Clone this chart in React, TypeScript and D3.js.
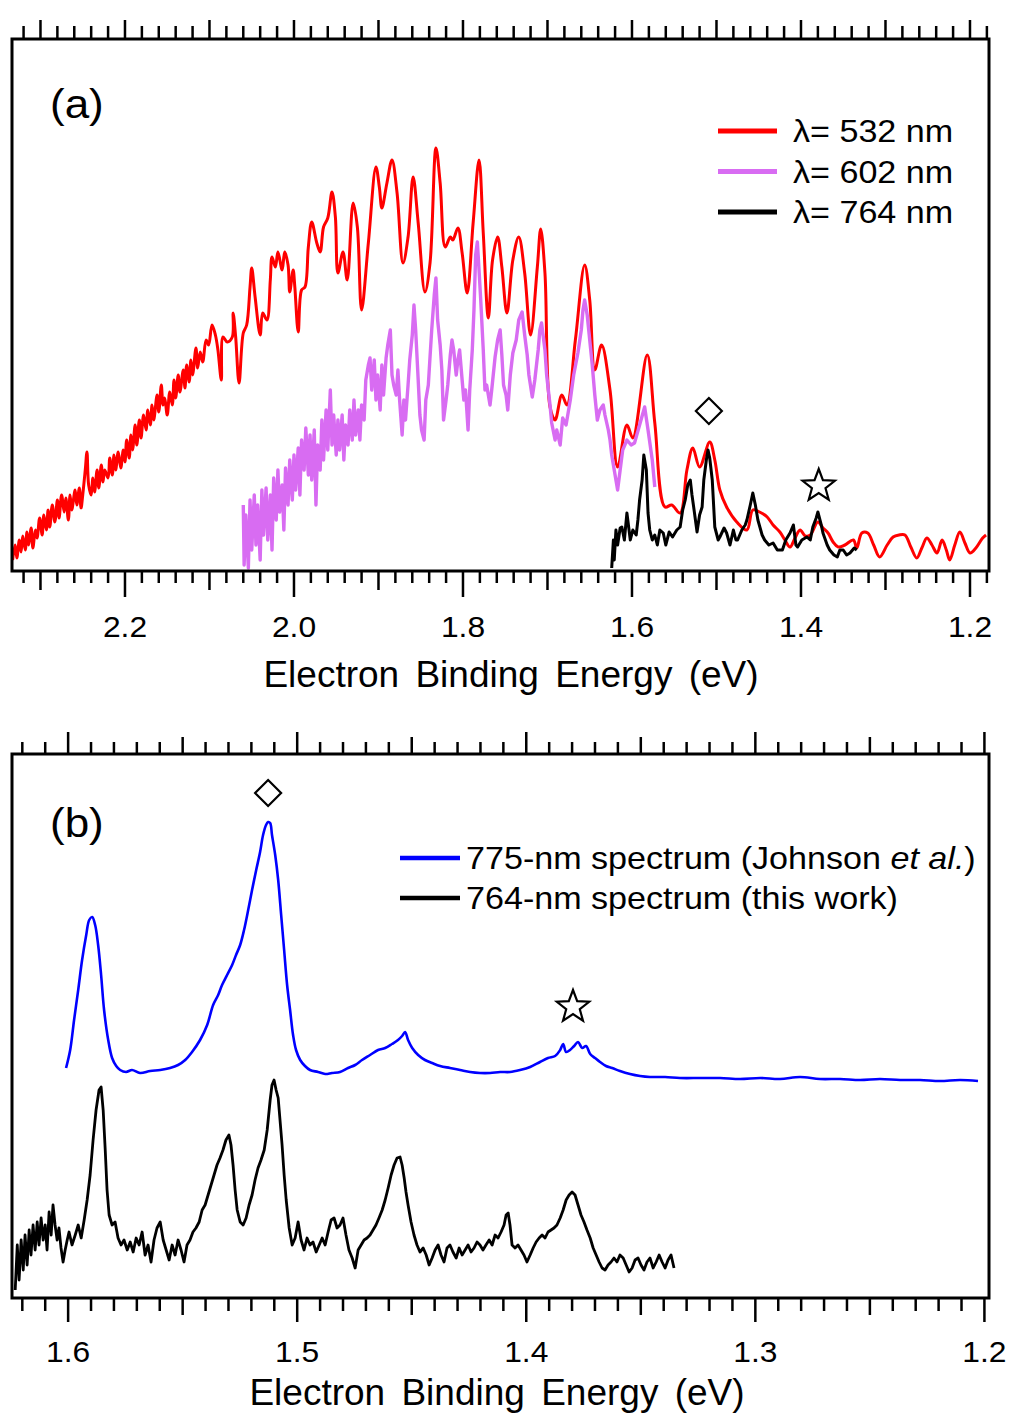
import React, { useEffect, useRef } from 'react';
import * as d3 from 'd3';

type Pt = [number, number];

// ---- panel (a): binding energy (eV), intensity (arb. counts) ----
const spec532: Pt[] = [
  [2.333,11],[2.330,26],[2.328,13],[2.325,31],[2.323,19],[2.321,35],[2.318,21],[2.316,39],[2.314,26],[2.311,43],
  [2.309,23],[2.306,41],[2.304,33],[2.301,53],[2.298,36],[2.296,56],[2.293,41],[2.291,61],[2.289,44],[2.286,66],
  [2.283,49],[2.280,71],[2.278,53],[2.275,76],[2.272,59],[2.270,73],[2.267,51],[2.265,76],[2.263,61],[2.259,81],
  [2.257,66],[2.254,83],[2.252,63],[2.250,76],[2.247,101],[2.245,119],[2.243,86],[2.240,76],[2.238,93],[2.236,79],
  [2.233,101],[2.231,83],[2.228,106],[2.226,89],[2.224,101],[2.220,93],[2.218,113],[2.215,96],[2.213,116],[2.211,101],
  [2.208,119],[2.205,103],[2.202,121],[2.200,109],[2.198,131],[2.195,113],[2.193,136],[2.191,121],[2.188,146],[2.186,126],
  [2.183,151],[2.181,133],[2.178,156],[2.175,141],[2.173,161],[2.170,146],[2.168,166],[2.166,151],[2.162,176],[2.160,159],
  [2.157,186],[2.155,166],[2.153,173],[2.150,156],[2.147,179],[2.144,166],[2.142,191],[2.140,173],[2.137,196],[2.135,179],
  [2.131,201],[2.129,183],[2.127,206],[2.124,189],[2.122,211],[2.120,196],[2.116,223],[2.114,203],[2.111,219],[2.108,209],
  [2.104,231],[2.101,226],[2.097,246],[2.093,236],[2.090,221],
  [2.086,191],[2.084,234],[2.079,229],[2.073,234],[2.072,258],[2.069,234],[2.065,188],[2.060,238],[2.056,246],[2.052,284],
  [2.050,303],[2.046,274],[2.040,236],[2.037,258],[2.032,251],[2.028,291],[2.026,314],[2.022,304],[2.019,319],[2.014,301],
  [2.011,319],[2.007,306],[2.005,279],[2.001,301],[1.999,284],[1.995,239],[1.991,281],[1.987,284],[1.983,324],[1.979,349],
  [1.973,328],[1.969,319],[1.965,344],[1.960,353],[1.955,379],[1.951,354],[1.948,298],[1.942,319],[1.937,291],[1.930,368],
  [1.925,344],[1.920,261],[1.912,328],[1.903,404],[1.899,384],[1.896,363],[1.890,388],[1.884,411],[1.878,378],[1.871,308],
  [1.865,334],[1.859,394],[1.853,348],[1.845,279],[1.839,308],[1.832,423],[1.827,388],[1.821,324],[1.815,334],[1.812,331],
  [1.806,343],[1.801,318],[1.795,278],[1.788,348],[1.781,411],[1.776,338],[1.770,253],[1.765,311],[1.759,334],[1.754,304],
  [1.748,258],[1.741,311],[1.734,334],[1.727,298],[1.720,236],[1.712,304],[1.708,342],[1.703,298],[1.697,164],[1.691,151],
  [1.683,176],[1.677,166],[1.667,231],[1.656,306],[1.650,271],[1.644,201],[1.636,226],[1.626,181],[1.617,104],[1.606,146],
  [1.599,133],[1.582,216],[1.573,148],[1.561,64],[1.553,66],[1.543,58],[1.535,101],[1.528,123],[1.520,104],[1.508,129],
  [1.502,111],[1.496,81],[1.488,64],[1.476,49],[1.464,41],[1.457,61],[1.449,59],[1.440,54],[1.433,46],[1.425,39],
  [1.419,31],[1.413,24],[1.407,33],[1.401,41],[1.395,35],[1.389,36],[1.380,49],[1.374,43],[1.368,38],[1.362,29],
  [1.356,24],[1.348,26],[1.338,31],[1.334,23],[1.328,38],[1.321,38],[1.314,26],[1.307,14],[1.298,26],[1.291,34],
  [1.284,36],[1.277,36],[1.270,24],[1.263,13],[1.257,23],[1.251,33],[1.245,26],[1.239,18],[1.233,31],[1.228,21],
  [1.224,11],[1.218,26],[1.212,39],[1.206,28],[1.200,18],[1.193,23],[1.185,33],[1.181,36],
];

const spec602: Pt[] = [
  [2.060,66],[2.059,6],[2.057,56],[2.054,3],[2.052,71],[2.050,21],[2.047,76],[2.045,26],[2.043,66],[2.040,11],
  [2.038,81],[2.036,36],[2.033,83],[2.031,31],[2.028,76],[2.026,21],[2.024,93],[2.021,51],[2.019,101],[2.017,59],
  [2.014,86],[2.012,41],[2.010,103],[2.007,66],[2.005,111],[2.002,71],[2.000,116],[1.998,81],[1.995,123],[1.993,76],
  [1.991,131],[1.988,101],[1.986,143],[1.983,96],[1.981,136],[1.979,91],[1.976,141],[1.974,66],[1.972,126],[1.969,101],
  [1.967,151],[1.965,111],[1.962,161],[1.960,121],[1.957,181],[1.955,126],[1.953,156],[1.950,116],[1.948,151],[1.946,121],
  [1.943,156],[1.941,111],[1.939,146],[1.936,126],[1.934,161],[1.931,131],[1.929,171],[1.927,136],[1.924,161],[1.922,131],
  [1.920,166],[1.917,151],[1.915,191],[1.912,206],[1.910,213],[1.908,181],[1.905,211],[1.903,171],[1.901,196],[1.898,161],
  [1.896,206],[1.894,176],[1.891,213],[1.889,226],[1.886,241],[1.884,196],[1.882,186],[1.879,176],[1.877,201],[1.875,171],
  [1.872,136],[1.870,171],[1.868,151],[1.865,186],[1.863,211],[1.860,236],[1.858,266],[1.856,241],[1.853,191],[1.851,156],
  [1.849,141],[1.846,131],[1.844,171],[1.841,186],[1.839,214],[1.837,241],[1.834,276],[1.832,293],[1.830,251],[1.827,226],
  [1.825,201],[1.823,151],[1.820,171],[1.818,186],[1.815,216],[1.813,231],[1.811,221],[1.808,196],[1.806,211],[1.804,221],
  [1.801,191],[1.799,171],[1.797,181],[1.794,141],[1.792,181],[1.789,221],[1.787,261],[1.785,316],[1.783,329],[1.781,301],
  [1.779,271],[1.776,221],[1.774,181],[1.772,186],[1.768,166],[1.766,181],[1.762,214],[1.759,231],[1.756,241],[1.754,216],
  [1.752,186],[1.749,176],[1.747,161],[1.744,196],[1.741,218],[1.737,231],[1.734,251],[1.730,259],[1.727,236],[1.724,216],
  [1.722,196],[1.718,174],[1.715,191],[1.711,221],[1.709,241],[1.707,248],[1.703,221],[1.701,196],[1.697,166],[1.695,148],
  [1.691,131],[1.689,141],[1.685,126],[1.682,153],[1.678,146],[1.673,171],[1.669,196],[1.664,218],[1.660,241],[1.658,261],
  [1.656,271],[1.653,256],[1.650,231],[1.647,206],[1.644,176],[1.641,151],[1.638,161],[1.634,166],[1.632,156],[1.628,141],
  [1.626,131],[1.624,116],[1.620,96],[1.617,81],[1.614,101],[1.611,121],[1.606,131],[1.601,126],[1.597,128],[1.591,146],
  [1.585,164],[1.581,141],[1.576,111],[1.573,84],
];

const spec764a: Pt[] = [
  [1.624,3],[1.622,31],[1.621,11],[1.619,41],[1.617,26],[1.614,43],[1.612,44],[1.609,31],[1.606,58],[1.602,31],
  [1.599,41],[1.595,36],[1.593,51],[1.591,71],[1.588,91],[1.586,116],[1.583,101],[1.581,58],[1.579,41],[1.576,31],
  [1.573,36],[1.570,26],[1.567,41],[1.563,38],[1.560,26],[1.556,39],[1.552,34],[1.547,41],[1.543,44],[1.540,61],
  [1.537,71],[1.534,86],[1.531,91],[1.529,76],[1.527,64],[1.523,39],[1.520,56],[1.517,64],[1.515,91],[1.512,111],
  [1.510,121],[1.508,113],[1.505,91],[1.502,44],[1.498,31],[1.496,34],[1.491,43],[1.488,38],[1.484,26],[1.480,41],
  [1.477,31],[1.475,31],[1.470,41],[1.466,46],[1.464,51],[1.460,66],[1.457,78],[1.454,66],[1.451,51],[1.446,36],
  [1.443,31],[1.438,26],[1.433,28],[1.428,21],[1.422,21],[1.418,31],[1.413,38],[1.409,46],[1.406,26],[1.404,24],
  [1.399,31],[1.393,34],[1.389,31],[1.386,44],[1.382,53],[1.380,59],[1.376,46],[1.374,38],[1.369,26],[1.366,21],
  [1.361,16],[1.357,14],[1.354,21],[1.350,21],[1.346,16],[1.342,18],[1.337,23],[1.334,21],
];

// ---- panel (b) ----
const spec775: Pt[] = [
  [1.6009,230],[1.5991,248],[1.5974,278],[1.5956,308],[1.5939,338],[1.5921,363],[1.5908,378],[1.5895,381],[1.5882,373],
  [1.5869,353],[1.5856,323],[1.5843,288],[1.5825,258],[1.5808,240],[1.5790,232],[1.5773,228],[1.5747,226],[1.5721,228],
  [1.5686,225],[1.5642,227],[1.5598,228],[1.5555,230],[1.5520,233],[1.5489,238],[1.5459,246],[1.5424,258],[1.5393,273],
  [1.5367,293],[1.5345,303],[1.5328,313],[1.5306,323],[1.5284,333],[1.5267,343],[1.5249,353],[1.5232,368],[1.5214,388],
  [1.5197,408],[1.5179,428],[1.5162,446],[1.5149,463],[1.5136,473],[1.5127,476],[1.5118,475],[1.5110,463],[1.5096,443],
  [1.5083,418],[1.5070,383],[1.5057,348],[1.5044,313],[1.5031,288],[1.5018,263],[1.5005,248],[1.4987,238],[1.4966,232],
  [1.4944,228],[1.4909,226],[1.4878,224],[1.4848,225],[1.4813,226],[1.4778,230],[1.4747,233],[1.4717,238],[1.4682,243],
  [1.4647,248],[1.4616,250],[1.4586,254],[1.4560,258],[1.4542,262],[1.4529,266],[1.4516,258],[1.4498,250],[1.4472,243],
  [1.4442,238],[1.4411,235],[1.4376,232],[1.4333,230],[1.4289,228],[1.4245,226],[1.4202,225],[1.4158,225],[1.4114,226],
  [1.4071,226],[1.4027,228],[1.3983,231],[1.3940,236],[1.3905,240],[1.3874,242],[1.3852,248],[1.3839,254],[1.3826,246],
  [1.3809,248],[1.3791,252],[1.3774,256],[1.3756,250],[1.3739,252],[1.3721,244],[1.3700,240],[1.3678,236],[1.3652,232],
  [1.3625,230],[1.3591,227],[1.3547,224],[1.3503,222],[1.3460,221],[1.3394,221],[1.3329,220],[1.3241,220],[1.3154,220],
  [1.3067,219],[1.2979,220],[1.2892,219],[1.2805,221],[1.2718,219],[1.2630,219],[1.2543,218],[1.2456,219],[1.2368,218],
  [1.2281,218],[1.2194,217],[1.2106,218],[1.2028,217],
];

const spec764b: Pt[] = [
  [1.6231,8],[1.6222,53],[1.6214,18],[1.6205,58],[1.6196,28],[1.6188,63],[1.6179,33],[1.6170,68],[1.6162,43],[1.6153,73],
  [1.6144,48],[1.6135,76],[1.6127,53],[1.6118,80],[1.6109,58],[1.6100,73],[1.6092,48],[1.6083,86],[1.6074,63],[1.6066,93],
  [1.6057,73],[1.6048,58],[1.6040,70],[1.6031,50],[1.6022,36],[1.6013,48],[1.6004,58],[1.5996,66],[1.5983,53],[1.5969,63],
  [1.5956,73],[1.5943,60],[1.5930,78],[1.5917,98],[1.5904,123],[1.5891,158],[1.5878,188],[1.5865,208],[1.5856,211],[1.5847,188],
  [1.5838,148],[1.5830,108],[1.5821,83],[1.5808,73],[1.5795,76],[1.5782,60],[1.5769,53],[1.5756,58],[1.5742,48],[1.5729,56],
  [1.5716,46],[1.5703,60],[1.5690,53],[1.5677,66],[1.5664,43],[1.5651,53],[1.5638,36],[1.5625,58],[1.5612,70],[1.5598,76],
  [1.5585,58],[1.5572,48],[1.5559,38],[1.5546,53],[1.5533,43],[1.5520,58],[1.5507,48],[1.5494,36],[1.5481,53],[1.5468,58],
  [1.5455,66],[1.5442,70],[1.5428,76],[1.5415,88],[1.5402,93],[1.5389,103],[1.5376,113],[1.5363,123],[1.5350,133],[1.5337,140],
  [1.5324,148],[1.5311,158],[1.5298,163],[1.5289,153],[1.5280,133],[1.5271,108],[1.5262,88],[1.5249,76],[1.5236,73],[1.5223,80],
  [1.5210,93],[1.5197,103],[1.5184,118],[1.5171,130],[1.5158,138],[1.5144,148],[1.5131,168],[1.5118,198],[1.5110,213],[1.5101,218],
  [1.5092,208],[1.5083,200],[1.5075,178],[1.5066,153],[1.5057,123],[1.5048,98],[1.5035,70],[1.5022,53],[1.5009,60],[1.4996,76],
  [1.4983,58],[1.4970,48],[1.4957,60],[1.4944,53],[1.4931,56],[1.4917,46],[1.4904,53],[1.4891,60],[1.4878,53],[1.4865,66],
  [1.4852,78],[1.4839,80],[1.4826,70],[1.4813,73],[1.4800,80],[1.4787,63],[1.4774,48],[1.4760,40],[1.4747,30],[1.4734,48],
  [1.4721,53],[1.4708,58],[1.4695,60],[1.4682,63],[1.4669,68],[1.4656,73],[1.4643,80],[1.4629,88],[1.4616,98],[1.4603,110],
  [1.4590,123],[1.4577,133],[1.4564,140],[1.4551,141],[1.4542,133],[1.4533,120],[1.4525,106],[1.4516,93],[1.4503,76],[1.4490,63],
  [1.4477,53],[1.4464,46],[1.4450,50],[1.4437,43],[1.4424,33],[1.4411,40],[1.4398,48],[1.4385,53],[1.4372,43],[1.4359,36],
  [1.4346,50],[1.4333,53],[1.4320,46],[1.4306,40],[1.4293,50],[1.4280,43],[1.4267,48],[1.4254,53],[1.4241,46],[1.4228,50],
  [1.4215,56],[1.4202,53],[1.4189,48],[1.4176,53],[1.4162,58],[1.4149,53],[1.4136,63],[1.4123,60],[1.4110,66],[1.4097,73],
  [1.4088,83],[1.4079,85],[1.4071,73],[1.4062,53],[1.4049,50],[1.4036,53],[1.4023,48],[1.4010,43],[1.3997,36],[1.3983,43],
  [1.3970,50],[1.3957,56],[1.3944,60],[1.3931,63],[1.3918,60],[1.3905,66],[1.3892,68],[1.3879,70],[1.3866,73],[1.3852,80],
  [1.3839,88],[1.3826,98],[1.3813,103],[1.3800,106],[1.3787,103],[1.3774,93],[1.3761,83],[1.3748,76],[1.3735,68],[1.3721,60],
  [1.3708,50],[1.3695,43],[1.3682,36],[1.3669,30],[1.3656,28],[1.3643,33],[1.3630,36],[1.3617,40],[1.3604,36],[1.3591,43],
  [1.3577,40],[1.3564,33],[1.3551,26],[1.3538,30],[1.3525,38],[1.3512,40],[1.3499,33],[1.3486,28],[1.3473,36],[1.3460,40],
  [1.3446,30],[1.3433,36],[1.3420,43],[1.3407,36],[1.3394,30],[1.3381,38],[1.3368,43],[1.3355,30],
];

const ticksA = [2.2, 2.0, 1.8, 1.6, 1.4, 1.2];
const ticksB = [1.6, 1.5, 1.4, 1.3, 1.2];

const legendA = [
  { label: 'λ= 532 nm', color: '#ff0000' },
  { label: 'λ= 602 nm', color: '#d86cf2' },
  { label: 'λ= 764 nm', color: '#000000' },
];
const legendB = [
  { label: '775-nm spectrum (Johnson ', italic: 'et al.', tail: ')', color: '#0000ff' },
  { label: '764-nm spectrum (this work)', italic: '', tail: '', color: '#000000' },
];

// feature markers: [energy, intensity]
const diamondA: Pt = [1.509, 160];
const starA: Pt = [1.379, 85];
const diamondB: Pt = [1.5127, 505];
const starB: Pt = [1.3796, 291];

const FONT = '"Liberation Sans", Arial, Helvetica, sans-serif';

function starPath(r: number) {
  const pts: string[] = [];
  for (let i = 0; i < 10; i++) {
    const rr = i % 2 === 0 ? r : r * 0.42;
    const a = -Math.PI / 2 + (i * Math.PI) / 5;
    pts.push(`${(rr * Math.cos(a)).toFixed(2)},${(rr * Math.sin(a)).toFixed(2)}`);
  }
  return 'M' + pts.join('L') + 'Z';
}

function stretchedText(g: any, x: number, y: number, txt: string, size: number, sx: number, anchor = 'start') {
  return g.append('text')
    .attr('transform', `translate(${x},${y}) scale(${sx},1)`)
    .attr('text-anchor', anchor)
    .attr('font-family', FONT)
    .attr('font-size', size)
    .attr('fill', '#000')
    .text(txt);
}

function drawPanel(svg: any, p: any) {
  const x = d3.scaleLinear().domain(p.xDomain).range([p.left, p.right]);
  const y = d3.scaleLinear().domain(p.yDomain).range([p.bottom, p.top]);
  const g = svg.append('g');

  const clipId = 'clip-' + p.id;
  g.append('clipPath').attr('id', clipId)
    .append('rect')
    .attr('x', p.left).attr('y', p.top)
    .attr('width', p.right - p.left).attr('height', p.bottom - p.top);

  const plot = g.append('g').attr('clip-path', `url(#${clipId})`);
  p.series.forEach((s: any) => {
    const line = d3.line<Pt>().x(d => x(d[0])).y(d => y(d[1]));
    if (s.smooth) line.curve(d3.curveCatmullRom.alpha(0.5));
    plot.append('path')
      .datum(s.data)
      .attr('d', line)
      .attr('fill', 'none')
      .attr('stroke', s.color)
      .attr('stroke-width', s.width)
      .attr('stroke-linejoin', 'round');
  });

  // frame
  g.append('rect')
    .attr('x', p.left).attr('y', p.top)
    .attr('width', p.right - p.left).attr('height', p.bottom - p.top)
    .attr('fill', 'none').attr('stroke', '#000').attr('stroke-width', 3);

  // ticks on top and bottom edges
  const lo = Math.min(...p.xDomain), hi = Math.max(...p.xDomain);
  const ks = d3.range(Math.ceil(lo / p.step - 1e-6), Math.floor(hi / p.step + 1e-6) + 1);
  ks.forEach((k: number) => {
    const v = k * p.step;
    const lvl = k % p.majorEvery === 0 ? 2 : k % p.midEvery === 0 ? 1 : 0;
    const xx = x(v);
    g.append('line')
      .attr('x1', xx).attr('x2', xx)
      .attr('y1', p.bottom).attr('y2', p.bottom + p.bottomLens[lvl])
      .attr('stroke', '#000').attr('stroke-width', 2.5);
    g.append('line')
      .attr('x1', xx).attr('x2', xx)
      .attr('y1', p.top).attr('y2', p.top - p.topLens[lvl])
      .attr('stroke', '#000').attr('stroke-width', 2.5);
  });

  p.labels.forEach((v: number) => {
    stretchedText(g, x(v), p.labelY, d3.format('.1f')(v), 30, 1.06, 'middle');
  });

  g.append('text')
    .attr('x', p.titleX).attr('y', p.titleY)
    .attr('text-anchor', 'middle')
    .attr('font-family', FONT)
    .attr('font-size', 37)
    .attr('word-spacing', 6)
    .text('Electron Binding Energy (eV)');

  stretchedText(g, p.left + 38, p.panelY, p.panel, 40, 1.1);

  // markers
  g.append('path')
    .attr('d', 'M0,-13L13,0L0,13L-13,0Z')
    .attr('transform', `translate(${x(p.diamond[0])},${y(p.diamond[1])})`)
    .attr('fill', 'none').attr('stroke', '#000').attr('stroke-width', 2.2);
  g.append('path')
    .attr('d', starPath(17))
    .attr('transform', `translate(${x(p.star[0])},${y(p.star[1])})`)
    .attr('fill', 'none').attr('stroke', '#000').attr('stroke-width', 2.2)
    .attr('stroke-linejoin', 'miter');

  return { x, y, g };
}

const App = () => {
  const svgRef = useRef<SVGSVGElement | null>(null);

  useEffect(() => {
    const svg = d3.select(svgRef.current);
    svg.selectAll('*').remove();
    svg.append('rect').attr('width', 1012).attr('height', 1421).attr('fill', '#fff');

    const a = drawPanel(svg, {
      id: 'a', left: 12, right: 989, top: 39, bottom: 571,
      xDomain: [2.3337, 1.1775], yDomain: [0, 532],
      step: 0.02, majorEvery: 10, midEvery: 5,
      bottomLens: [12, 19, 26], topLens: [13, 19, 19],
      labels: ticksA, labelY: 637, titleX: 511, titleY: 687,
      panel: '(a)', panelY: 118,
      diamond: diamondA, star: starA,
      series: [
        { data: spec532, color: '#ff0000', width: 3, smooth: true },
        { data: spec602, color: '#d86cf2', width: 3.4 },
        { data: spec764a, color: '#000000', width: 3 },
      ],
    });

    legendA.forEach((d, i) => {
      const yy = 131 + i * 40.5;
      a.g.append('line')
        .attr('x1', 718).attr('x2', 777).attr('y1', yy).attr('y2', yy)
        .attr('stroke', d.color).attr('stroke-width', 5);
      stretchedText(a.g, 793, yy + 11, d.label, 31, 1.1);
    });

    const b = drawPanel(svg, {
      id: 'b', left: 12, right: 989, top: 754, bottom: 1298,
      xDomain: [1.6245, 1.198], yDomain: [0, 544],
      step: 0.01, majorEvery: 10, midEvery: 5,
      bottomLens: [13, 17, 24], topLens: [12, 17, 22],
      labels: ticksB, labelY: 1362, titleX: 497, titleY: 1405,
      panel: '(b)', panelY: 837,
      diamond: diamondB, star: starB,
      series: [
        { data: spec775, color: '#0000ff', width: 2.6, smooth: true },
        { data: spec764b, color: '#000000', width: 2.8 },
      ],
    });

    legendB.forEach((d, i) => {
      const yy = 858 + i * 40;
      b.g.append('line')
        .attr('x1', 400).attr('x2', 460).attr('y1', yy).attr('y2', yy)
        .attr('stroke', d.color).attr('stroke-width', 4.5);
      const t = stretchedText(b.g, 466, yy + 11, '', 31, 1.1);
      t.append('tspan').text(d.label);
      if (d.italic) t.append('tspan').attr('font-style', 'italic').text(d.italic);
      if (d.tail) t.append('tspan').text(d.tail);
    });
  }, []);

  return (
    <svg
      ref={svgRef}
      width={1012}
      height={1421}
      style={{ position: 'absolute', left: 0, top: 0, display: 'block' }}
    />
  );
};

export default App;
